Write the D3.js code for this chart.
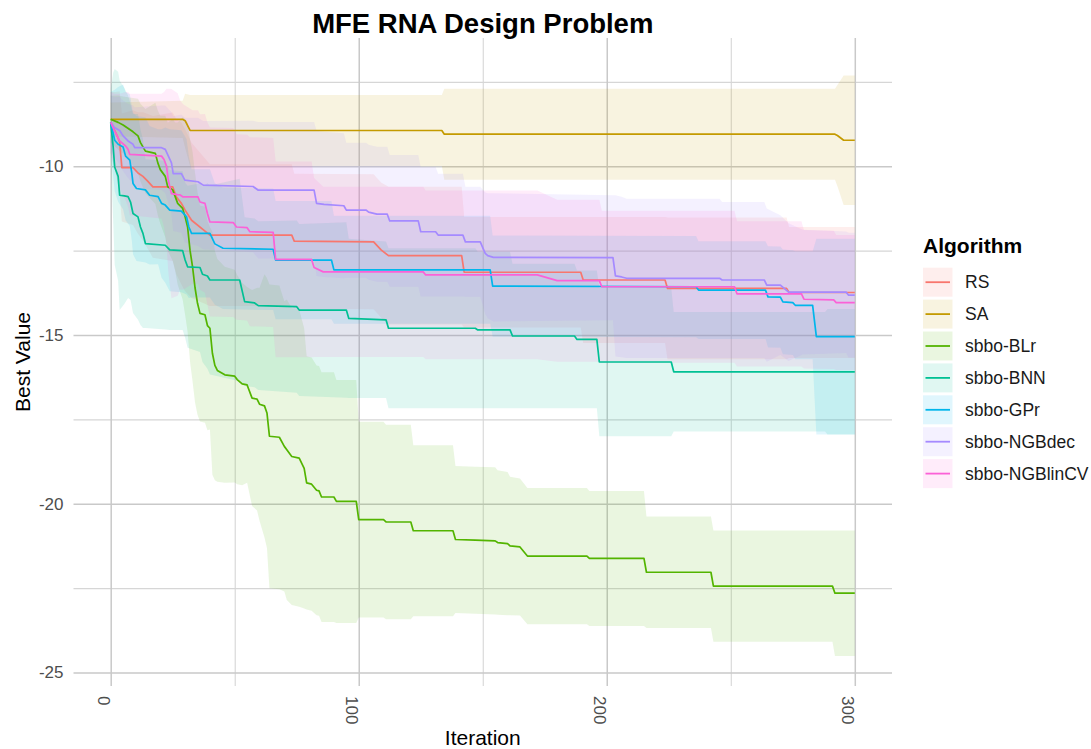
<!DOCTYPE html>
<html>
<head>
<meta charset="utf-8">
<script src="https://cdn.jsdelivr.net/npm/d3@7"></script>
<style>
    body {margin: 0; background: #fff;}
    svg {display: block; font-family: "Liberation Sans", Arial, Helvetica, sans-serif;}
</style>
</head>
<body>
<div class="chart"></div>
<script>
// legend order = factor order
var algorithms = ['RS', 'SA', 'sbbo-BLr', 'sbbo-BNN', 'sbbo-GPr', 'sbbo-NGBdec', 'sbbo-NGBlinCV']
var xTicks = [0, 100, 200, 300]
var xMinor = [50, 150, 250]
var yTicks = [-25, -20, -15, -10]
var yMinor = [-22.5, -17.5, -12.5, -7.5]

// rows: [iteration, mean best value, sd]
var rs = [
    [0, -8.7, 0.9], [2, -9.0, 1.2], [3.6, -9.28, 1.5], [4.5, -10.04, 1.6], [9, -10.04, 1.7],
    [11, -10.2, 1.8], [13, -10.3, 1.9], [15, -10.45, 2.0], [17, -10.61, 2.1], [25, -10.61, 2.2],
    [26.5, -10.91, 2.3], [28.5, -11.1, 2.4], [30, -11.3, 2.4], [32.6, -11.6, 2.3], [40, -12.04, 2.1],
    [73, -12.04, 2.1], [74, -12.22, 2.0], [106, -12.24, 2.0], [109, -12.48, 2.0], [112, -12.65, 2.04],
    [141.5, -12.65, 2.04], [142.5, -13.14, 1.64], [189.5, -13.14, 1.64], [190.5, -13.37, 1.87],
    [223.5, -13.37, 1.87], [224.5, -13.62, 2.1], [272.5, -13.62, 2.1], [273.5, -13.74, 1.94],
    [300, -13.74, 1.94]
]
var sa = [
    [0, -8.61, 0.5], [29, -8.61, 0.55], [30, -8.65, 0.8], [32, -8.94, 1.05], [133.5, -8.94, 1.05],
    [134.5, -9.05, 1.35], [292, -9.05, 1.35], [293, -9.09, 1.5], [295.5, -9.23, 1.92], [300, -9.23, 1.92]
]
var blr = [
    [0, -8.61, 0.7], [3, -8.7, 0.8], [5, -8.78, 0.85], [9, -8.98, 1.0], [11, -9.1, 1.1],
    [12, -9.3, 1.15], [14, -9.55, 1.25], [18, -9.62, 1.5], [19, -9.9, 1.55], [20, -10.1, 1.6],
    [22, -10.3, 1.8], [23, -10.61, 1.9], [25, -10.7, 2.1], [26, -10.9, 2.2], [27, -11.1, 2.4],
    [29, -11.25, 2.7], [30, -11.5, 2.9], [31, -11.8, 3.1], [32, -12.5, 3.3], [33, -12.98, 3.4],
    [34, -13.6, 3.4], [35, -14.06, 3.3], [36, -14.36, 3.2], [38, -14.4, 3.2], [39, -14.72, 3.1],
    [40, -14.8, 3.0], [41, -15.54, 3.6], [42, -15.9, 3.4], [43, -16.05, 3.3], [46, -16.18, 3.2],
    [50, -16.22, 3.15], [51, -16.32, 3.1], [53, -16.45, 3.0], [55, -16.48, 2.9], [57, -16.87, 3.2],
    [59, -16.9, 3.3], [60, -17.05, 3.45], [62, -17.1, 3.9], [63, -17.31, 4.0], [64, -18.0, 4.5],
    [68, -18.03, 4.5], [70, -18.3, 4.3], [71, -18.4, 4.45], [73, -18.6, 4.4], [76, -18.65, 4.4],
    [78, -18.95, 4.15], [79, -19.38, 3.75], [81, -19.42, 3.75], [83, -19.6, 3.7], [84, -19.62, 3.7],
    [85, -19.8, 3.7], [90, -19.8, 3.7], [91, -19.93, 3.6], [99, -19.93, 3.6], [100, -20.47, 2.9],
    [110, -20.47, 2.9], [111, -20.54, 2.88], [121, -20.54, 2.88], [122, -20.8, 2.53], [138, -20.8, 2.53],
    [139, -21.06, 2.18], [147, -21.08, 2.18], [155, -21.1, 2.18], [156, -21.15, 2.14], [160, -21.18, 2.12],
    [161, -21.25, 2.05], [165, -21.28, 2.03], [168, -21.55, 2.02], [192, -21.55, 2.02], [193, -21.62, 2.0],
    [215, -21.62, 2.0], [216, -22.03, 1.65], [242, -22.03, 1.65], [243, -22.44, 1.65], [291, -22.44, 1.65],
    [292, -22.65, 1.86], [300, -22.65, 1.86]
]
var bnn = [
    [0, -8.7, 1.0], [1, -9.43, 2.2], [1.6, -10.02, 2.9], [3, -10.3, 3.1], [3.6, -10.86, 3.4],
    [5.5, -10.88, 3.2], [7, -10.9, 3.0], [8, -11.06, 2.9], [9, -11.4, 2.95], [11, -11.5, 3.05],
    [12, -11.8, 2.9], [13, -11.99, 2.8], [14, -12.29, 2.5], [22, -12.34, 2.5], [23.8, -12.48, 2.37],
    [29, -12.5, 2.35], [30, -12.78, 2.3], [31, -12.98, 2.4], [36, -13.0, 2.5], [37, -13.2, 2.6],
    [39, -13.25, 2.75], [40, -13.37, 2.8], [52, -13.37, 3.0], [54, -14.01, 2.5], [58, -14.05, 2.5],
    [59.5, -14.13, 2.5], [75, -14.16, 2.55], [76, -14.26, 2.55], [95, -14.26, 2.6], [96, -14.51, 2.36],
    [111, -14.55, 2.32], [112, -14.8, 2.37], [147, -14.8, 2.37], [148, -14.85, 2.32], [161, -14.85, 2.32],
    [162, -15.03, 2.14], [187, -15.03, 2.14], [188, -15.13, 2.04], [196, -15.13, 2.04], [197, -15.8, 2.2],
    [226, -15.8, 2.2], [227, -16.09, 1.77], [288, -16.09, 1.77], [289, -16.09, 1.86], [300, -16.09, 1.86]
]
var gpr = [
    [0, -8.7, 0.9], [1.6, -9.23, 1.5], [3, -9.35, 1.7], [5, -9.43, 1.85], [6, -9.7, 1.9],
    [7.7, -9.82, 1.95], [8.5, -10.2, 2.0], [9, -10.51, 2.1], [10.4, -10.66, 2.15], [14, -10.7, 2.15],
    [15.7, -10.86, 2.05], [19.1, -10.9, 2.0], [20.5, -11.1, 2.2], [22, -11.15, 2.3], [23.8, -11.3, 2.4],
    [28.5, -11.33, 2.4], [30.6, -11.5, 2.3], [31.5, -11.8, 2.1], [32.6, -11.99, 1.9], [40, -11.99, 1.9],
    [42, -12.3, 1.8], [45.3, -12.43, 1.8], [65.5, -12.46, 1.8], [66.5, -12.78, 1.75], [89, -12.78, 1.75],
    [90, -13.07, 1.6], [153, -13.07, 1.6], [154, -13.55, 1.5], [236, -13.57, 1.5], [237, -13.67, 1.45],
    [264, -13.67, 1.45], [265, -13.87, 1.5], [270, -13.88, 1.5], [271, -14.02, 1.55], [275, -14.04, 1.55],
    [276, -14.12, 1.6], [283, -14.12, 1.6], [284.5, -15.05, 2.9], [300, -15.05, 2.9]
]
var ngbdec = [
    [0, -8.7, 0.8], [1.5, -8.85, 0.9], [3.6, -8.94, 1.0], [5, -9.1, 1.05], [7, -9.25, 1.1],
    [9, -9.35, 1.15], [9.7, -9.45, 1.2], [20.5, -9.45, 1.25], [22, -9.5, 1.3], [24.5, -9.9, 1.5],
    [25.2, -10.22, 1.7], [28.5, -10.22, 1.75], [29.9, -10.41, 1.85], [35.2, -10.46, 1.9], [37.3, -10.56, 1.9],
    [57.4, -10.6, 1.95], [59.5, -10.71, 2.02], [82, -10.71, 2.02], [83, -11.1, 2.15], [86, -11.13, 2.15],
    [94, -11.17, 2.15], [95, -11.3, 2.0], [103, -11.3, 2.0], [104, -11.36, 2.0], [107.3, -11.42, 2.0],
    [111.5, -11.42, 2.0], [112.5, -11.62, 1.95], [124, -11.62, 1.95], [125, -11.94, 1.92], [131, -11.94, 1.92],
    [132, -12.04, 1.82], [142, -12.04, 1.82], [143, -12.24, 1.63], [149, -12.24, 1.63], [151, -12.58, 1.8],
    [152, -12.65, 1.85], [154.3, -12.7, 1.9], [202.5, -12.71, 1.85], [203.5, -13.25, 2.39], [206, -13.28, 2.38],
    [208, -13.32, 2.36], [245.5, -13.32, 2.36], [246.5, -13.37, 2.31], [263.5, -13.37, 2.31], [264.5, -13.52, 2.27],
    [270, -13.52, 2.07], [273.3, -13.73, 2.04], [279, -13.73, 1.85], [296.5, -13.73, 1.8], [297.5, -13.82, 1.85],
    [300, -13.82, 1.85]
]
var ngblincv = [
    [0, -8.7, 0.9], [1.5, -8.95, 1.1], [3, -9.15, 1.3], [3.6, -9.25, 1.4], [6, -9.4, 1.6],
    [7, -9.5, 1.7], [7.7, -9.65, 1.8], [20.5, -9.7, 1.85], [21.5, -9.8, 2.0], [22.5, -10.0, 2.3],
    [23.2, -10.4, 2.7], [23.8, -10.6, 2.9], [24.5, -10.81, 3.1], [27, -10.84, 3.0], [28, -10.85, 2.8],
    [29.2, -10.91, 2.75], [33, -10.91, 2.57], [35.2, -10.91, 2.57], [36, -11.06, 2.6], [38, -11.1, 2.65],
    [39, -11.4, 2.7], [40, -11.65, 2.8], [49.4, -11.67, 2.8], [50.7, -11.8, 2.75], [55, -11.82, 2.75],
    [56.1, -11.94, 2.8], [65.5, -11.96, 2.8], [66.5, -12.76, 2.9], [81, -12.76, 2.9], [82, -13.0, 2.65],
    [85.7, -13.13, 2.52], [126, -13.13, 2.52], [127, -13.22, 2.5], [172, -13.22, 2.5], [180, -13.39, 2.4],
    [197, -13.39, 2.4], [198, -13.57, 2.25], [251.5, -13.57, 2.25], [252.5, -13.78, 2.15], [278.5, -13.78, 2.15],
    [279.5, -13.94, 2.05], [291.5, -13.96, 2.05], [292.5, -14.04, 2.0], [300, -14.04, 2.0]
]
var runs = [rs, sa, blr, bnn, gpr, ngbdec, ngblincv]

// ggplot default hue palette
var palette = ['#F8766D', '#C49A00', '#53B400', '#00C094', '#00B6EB', '#A58AFF', '#FB61D7']

var margin = {top: 38, right: 199, bottom: 63, left: 73.5}
var width = 1091 - margin.left - margin.right
var height = 749 - margin.top - margin.bottom

var root = d3.select('.chart')
    .append('svg')
    .attr('width', 1091)
    .attr('height', 749)

var svg = root.append('g')
    .attr('transform', 'translate(' + margin.left + ',' + margin.top + ')')

var xScale = d3.scaleLinear()
    .domain([-15, 315])
    .range([0, width])

var yScale = d3.scaleLinear()
    .domain([-25.4, -6.2])
    .range([height, 0])

// plain hyphen, like the original
var plain = function (d) { return String(d) }

// minor grid first, then major grid with labels
svg.append('g')
    .call(d3.axisLeft(yScale).tickValues(yMinor).tickSize(-width).tickFormat(''))
    .call(function (a) { a.select('.domain').remove() })
    .selectAll('line').attr('stroke', '#d6d6d6').attr('stroke-width', 1.1)

svg.append('g')
    .attr('transform', 'translate(0,' + height + ')')
    .call(d3.axisBottom(xScale).tickValues(xMinor).tickSize(-height).tickFormat(''))
    .call(function (a) { a.select('.domain').remove() })
    .selectAll('line').attr('stroke', '#d6d6d6').attr('stroke-width', 1.1)

var yAxis = svg.append('g')
    .call(d3.axisLeft(yScale).tickValues(yTicks).tickFormat(plain).tickSize(-width).tickPadding(10))
yAxis.select('.domain').remove()
yAxis.selectAll('line').attr('stroke', '#c9c9c9').attr('stroke-width', 1.5)
yAxis.selectAll('text')
    .attr('fill', '#4d4d4d')
    .style('font-size', '17px')
    .style('font-family', '"Liberation Sans", Arial, sans-serif')

var xAxis = svg.append('g')
    .attr('transform', 'translate(0,' + height + ')')
    .call(d3.axisBottom(xScale).tickValues(xTicks).tickFormat(plain).tickSize(-height))
xAxis.select('.domain').remove()
xAxis.selectAll('line').attr('stroke', '#c9c9c9').attr('stroke-width', 1.5)
xAxis.selectAll('text')
    .attr('x', 10)
    .attr('y', 13)
    .attr('dy', 0)
    .attr('transform', 'rotate(90)')
    .style('text-anchor', 'start')
    .attr('fill', '#4d4d4d')
    .style('font-size', '17px')
    .style('font-family', '"Liberation Sans", Arial, sans-serif')

// ribbons (mean +/- sd), then lines on top
var band = d3.area()
    .x(function (d) { return xScale(d[0]) })
    .y0(function (d) { return yScale(d[1] - d[2]) })
    .y1(function (d) { return yScale(d[1] + d[2]) })

var line = d3.line()
    .x(function (d) { return xScale(d[0]) })
    .y(function (d) { return yScale(d[1]) })

svg.append('g').selectAll('.band')
    .data(runs)
    .enter()
    .append('path')
    .attr('class', 'band')
    .attr('d', band)
    .attr('fill', function (d, i) { return palette[i] })
    .attr('fill-opacity', 0.12)

svg.append('g').selectAll('.run')
    .data(runs)
    .enter()
    .append('path')
    .attr('class', 'run')
    .attr('d', line)
    .attr('fill', 'none')
    .attr('stroke', function (d, i) { return palette[i] })
    .attr('stroke-width', 1.7)
    .attr('stroke-linejoin', 'round')

// titles
root.append('text')
    .attr('x', margin.left + width / 2)
    .attr('y', 33)
    .attr('text-anchor', 'middle')
    .style('font-size', '27.5px')
    .style('font-weight', 'bold')
    .text('MFE RNA Design Problem')

root.append('text')
    .attr('x', margin.left + width / 2)
    .attr('y', 745)
    .attr('text-anchor', 'middle')
    .style('font-size', '21px')
    .text('Iteration')

root.append('text')
    .attr('transform', 'translate(30,' + (margin.top + height / 2) + ') rotate(-90)')
    .attr('text-anchor', 'middle')
    .style('font-size', '21px')
    .text('Best Value')

// legend
var legend = root.append('g')
    .attr('transform', 'translate(923,0)')

legend.append('text')
    .attr('x', 0)
    .attr('y', 253)
    .style('font-size', '21px')
    .style('font-weight', 'bold')
    .text('Algorithm')

var keys = legend.selectAll('.key')
    .data(algorithms)
    .enter()
    .append('g')
    .attr('class', 'key')
    .attr('transform', function (d, i) { return 'translate(0,' + (267.7 + i * 31.9) + ')' })

keys.append('rect')
    .attr('width', 29.5)
    .attr('height', 29)
    .attr('fill', function (d, i) { return palette[i] })
    .attr('fill-opacity', 0.12)

keys.append('line')
    .attr('x1', 2.5)
    .attr('x2', 27)
    .attr('y1', 14.5)
    .attr('y2', 14.5)
    .attr('stroke', function (d, i) { return palette[i] })
    .attr('stroke-width', 1.8)

keys.append('text')
    .attr('x', 42)
    .attr('y', 20.6)
    .attr('fill', '#1a1a1a')
    .style('font-size', '17.5px')
    .text(function (d) { return d })
</script>
</body>
</html>
